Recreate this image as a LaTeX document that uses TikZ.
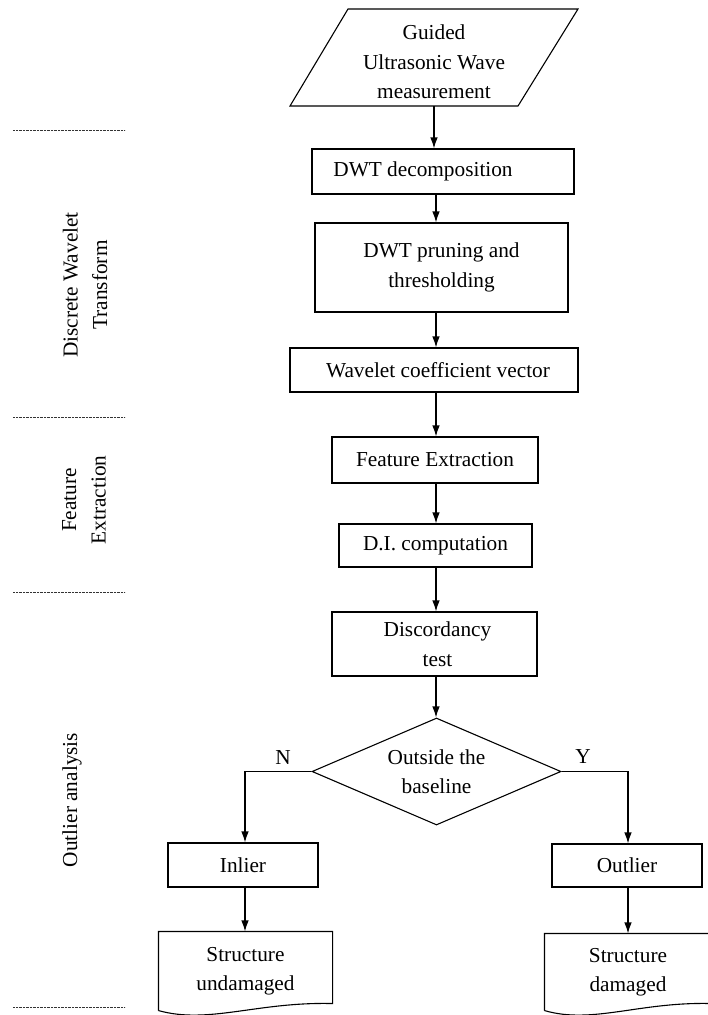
\documentclass[tikz,border=0pt]{standalone}
\usepackage{fontspec}
\setmainfont{Liberation Serif}
\usetikzlibrary{shapes.geometric,arrows.meta,calc}
\begin{document}
\begin{tikzpicture}[x=1pt,y=-1pt,
  font=\fontsize{21.3}{29.5}\selectfont,
  line width=1.1pt,
  stepbox/.style={draw, rectangle, inner sep=0pt, align=center},
  txt/.style={inner sep=0pt, align=center},
  arr/.style={-{Latex[length=11pt,width=7.5pt]}},
  sep/.style={line width=0.7pt, dash pattern=on 0.7pt off 0.7pt, black!80},
  side/.style={inner sep=0pt, align=center, rotate=90}
]
\useasboundingbox (0,0) rectangle (708,1015);
\coordinate (axis) at (436,0);

% left separators
\coordinate (s1a) at (13,130); \coordinate (s1b) at (125,130);
\coordinate (s2a) at (13,417); \coordinate (s2b) at (125,417);
\coordinate (s3a) at (13,592); \coordinate (s3b) at (125,592);
\coordinate (s4a) at (13,1007); \coordinate (s4b) at (125,1007);
\draw[sep] (s1a) -- (s1b);
\draw[sep] (s2a) -- (s2b);
\draw[sep] (s3a) -- (s3b);
\draw[sep] (s4a) -- (s4b);

\node[side] (lab1) at (85,285) {Discrete Wavelet\\Transform};
\node[side] (lab2) at (84,500) {Feature\\Extraction};
\node[side] (lab3) at (72,800) {Outlier analysis};

% parallelogram input
\draw (348,9) -- (578,9) -- (518,106) -- (290,106) -- cycle;
\node[txt] (g) at (434,62) {Guided\\Ultrasonic Wave\\measurement};
\coordinate (gbot) at (434,106);

\node[stepbox, minimum width=262pt, minimum height=45pt] (d1) at (443,171.5) {DWT decomposition\hspace*{40pt}};
\node[stepbox, minimum width=253pt, minimum height=89pt] (d2) at (441.5,267.5) {DWT pruning and\\thresholding};
\node[stepbox, minimum width=288pt, minimum height=44pt] (wc) at (434,370) {\hspace*{8pt}Wavelet coefficient vector};
\node[stepbox, minimum width=206pt, minimum height=46pt] (fe) at (435,460) {Feature Extraction};
\node[stepbox, minimum width=193pt, minimum height=43pt] (di) at (435.5,545.5) {D.I. computation};
\node[stepbox, minimum width=205pt, minimum height=64pt] (dt) at (434.5,644) {\hspace*{6pt}Discordancy\\\hspace*{6pt}test};
\node[draw, diamond, inner sep=0pt, aspect=2.33, minimum width=249pt, minimum height=107pt, align=center] (dia) at (436.5,771.5) {Outside the\\baseline};

\node[stepbox, minimum width=150pt, minimum height=44pt] (inl) at (243,865) {Inlier};
\node[stepbox, minimum width=150pt, minimum height=43pt] (out) at (627,865.5) {Outlier};

% documents
\node[txt, minimum width=173pt, minimum height=78pt] (doc1) at (245.5,971) {Structure\\undamaged};
\draw (doc1.south west) -- (doc1.north west) -- (doc1.north east) -- ($(doc1.south east)+(0,-7)$)
  .. controls ($(doc1.south east)+(-75,-9)$) and ($(doc1.south west)+(50,14)$) .. (doc1.south west);
\node[txt, minimum width=166pt, minimum height=76pt] (doc2) at (628,972) {Structure\\damaged};
\draw (doc2.south west) -- (doc2.north west) -- (doc2.north east) -- ($(doc2.south east)+(0,-7)$)
  .. controls ($(doc2.south east)+(-72,-9)$) and ($(doc2.south west)+(48,14)$) .. (doc2.south west);

% connectors
\draw[arr] (gbot) -- (gbot |- d1.north);
\draw[arr] (d1.south -| axis) -- (d2.north -| axis);
\draw[arr] (d2.south -| axis) -- (wc.north -| axis);
\draw[arr] (wc.south -| axis) -- (fe.north -| axis);
\draw[arr] (fe.south -| axis) -- (di.north -| axis);
\draw[arr] (di.south -| axis) -- (dt.north -| axis);
\draw[arr] (dt.south -| axis) -- (dia.north -| axis);
\coordinate (nx) at (245,0);
\coordinate (yx) at (628,0);
\draw[arr] (dia.west) -- (dia.west -| nx) -- (inl.north -| nx);
\draw[arr] (dia.east) -- (dia.east -| yx) -- (out.north -| yx);
\draw[arr] (inl.south -| nx) -- (doc1.north -| nx);
\draw[arr] (out.south -| yx) -- (doc2.north -| yx);

\node[txt, anchor=south] (nlab) at (283,765) {N};
\node[txt, anchor=south] (ylab) at (583,764) {Y};
\end{tikzpicture}
\end{document}
